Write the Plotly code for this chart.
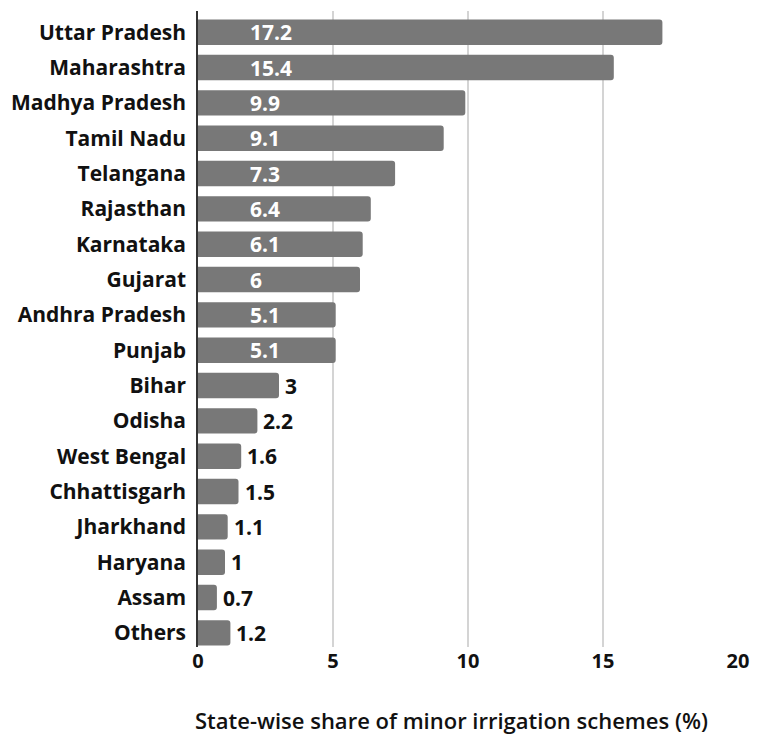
import plotly.graph_objects as go

states = ["Uttar Pradesh", "Maharashtra", "Madhya Pradesh", "Tamil Nadu", "Telangana",
          "Rajasthan", "Karnataka", "Gujarat", "Andhra Pradesh", "Punjab", "Bihar",
          "Odisha", "West Bengal", "Chhattisgarh", "Jharkhand", "Haryana", "Assam", "Others"]
shares = [17.2, 15.4, 9.9, 9.1, 7.3, 6.4, 6.1, 6, 5.1, 5.1, 3, 2.2, 1.6, 1.5, 1.1, 1, 0.7, 1.2]
labels = ["17.2", "15.4", "9.9", "9.1", "7.3", "6.4", "6.1", "6", "5.1", "5.1", "3", "2.2",
          "1.6", "1.5", "1.1", "1", "0.7", "1.2"]
x_ticks = [0, 5, 10, 15, 20]
x_title = "State-wise share of minor irrigation schemes (%)"

FONT = "Open Sans"
BAR = "#787878"

fig = go.Figure()
fig.add_trace(go.Bar(
    y=states, x=shares, orientation="h",
    marker=dict(color=BAR, line=dict(width=0), cornerradius=3),
    width=0.72, hoverinfo="skip",
))

annotations = []
for s, v, t in zip(states, shares, labels):
    if v >= 5:
        annotations.append(dict(x=0, y=s, xref="x", yref="y", text=f"<b>{t}</b>",
                                xanchor="left", xshift=50, showarrow=False,
                                font=dict(family=FONT, size=21, color="white")))
    else:
        annotations.append(dict(x=v, y=s, xref="x", yref="y", text=f"<b>{t}</b>",
                                xanchor="left", xshift=4, showarrow=False,
                                font=dict(family=FONT, size=21, color="#111111")))

# axis title, slightly left of plot centre as in the reference
annotations.append(dict(x=0.469, y=0, xref="paper", yref="paper", text=x_title,
                        xanchor="center", yanchor="middle", yshift=-73, showarrow=False,
                        font=dict(family=FONT, size=22, color="#111111", weight=600)))

fig.update_layout(
    width=760, height=743,
    margin=dict(l=197, r=13, t=11, b=96),
    paper_bgcolor="white", plot_bgcolor="white",
    showlegend=False,
    font=dict(family=FONT, color="#111111"),
    annotations=annotations,
    xaxis=dict(range=[0, 20], tickvals=x_ticks, ticktext=[f"<b>{v}</b>" for v in x_ticks],
               showgrid=True, gridcolor="#d4d4d4", gridwidth=1.5, zeroline=False,
               tickfont=dict(size=20, family=FONT, color="#111111"), ticks="",
               ticklabelstandoff=0,
               showline=False, fixedrange=True),
    yaxis=dict(categoryorder="array", categoryarray=states[::-1], autorange=False,
               range=[-0.4, 17.6],
               tickfont=dict(size=21, family=FONT, color="#111111"),
               ticklabelstandoff=6, ticks="", showgrid=False,
               showline=True, linecolor="#333333", linewidth=1.5,
               tickvals=states, ticktext=[f"<b>{s}</b>" for s in states], fixedrange=True),
)

fig.write_html("out.html")
